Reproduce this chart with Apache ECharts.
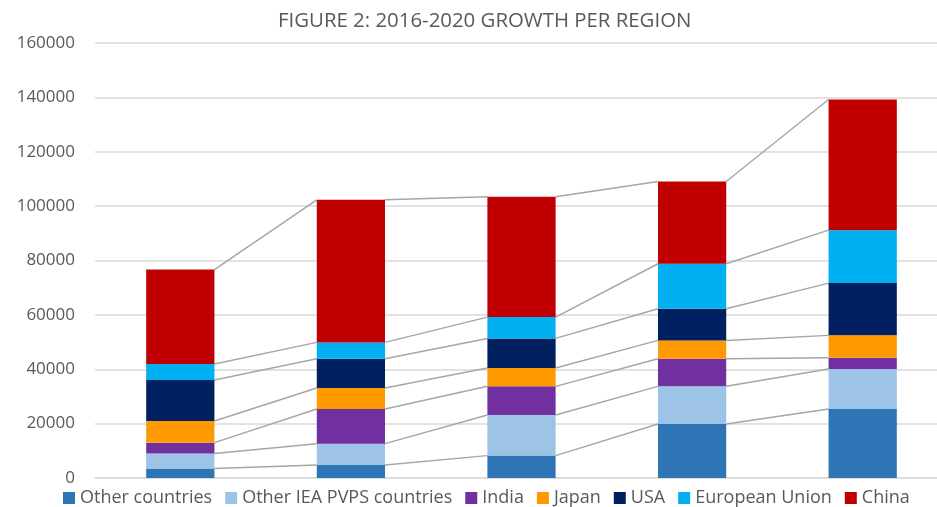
<!DOCTYPE html>
<html lang="en">
<head>
    <meta charset="UTF-8">
    <title>Growth per region</title>
    <script src="https://cdn.jsdelivr.net/npm/echarts@6/dist/echarts.min.js"></script>
    <style>
        * { margin: 0; padding: 0; }
        #main { width: 937px; height: 507px; background: #fff; }
    </style>
</head>
<body>
    <div id="main"></div>
    <script>
        var years = ['2016', '2017', '2018', '2019', '2020'];
        var regions = ['Other countries', 'Other IEA PVPS countries', 'India', 'Japan', 'USA', 'European Union', 'China'];
        var colors = ['#2E75B6', '#9DC3E6', '#7030A0', '#FF9900', '#002060', '#00B0F0', '#C00000'];

        var otherCountries = [3450, 4780, 8230, 19850, 25360];
        var otherIea = [5550, 7860, 14930, 13860, 14710];
        var india = [4000, 12720, 10550, 10180, 4190];
        var japan = [7950, 7720, 6730, 6730, 8200];
        var usa = [15100, 10810, 10910, 11650, 19220];
        var eu = [5900, 5990, 7830, 16540, 19480];
        var china = [34700, 52460, 44260, 30260, 48050];

        var values = [otherCountries, otherIea, india, japan, usa, eu, china];

        // cumulative tops for the connecting series lines
        var links = [];
        var cum = years.map(function () { return 0; });
        values.forEach(function (arr) {
            cum = cum.map(function (c, i) { return c + arr[i]; });
            for (var i = 0; i < years.length - 1; i++) {
                links.push([i, cum[i], cum[i + 1]]);
            }
        });

        var series = values.map(function (arr, k) {
            return {
                name: regions[k],
                type: 'bar',
                stack: 'total',
                barWidth: '40%',
                itemStyle: { color: colors[k] },
                data: arr
            };
        });
        series.push({
            type: 'custom',
            silent: true,
            z: 1,
            renderItem: function (params, api) {
                var i = api.value(0);
                var half = api.size([1, 0])[0] * 0.2;
                var p1 = api.coord([i, api.value(1)]);
                var p2 = api.coord([i + 1, api.value(2)]);
                return {
                    type: 'line',
                    shape: { x1: p1[0] + half, y1: p1[1], x2: p2[0] - half, y2: p2[1] },
                    style: { stroke: '#a6a6a6', lineWidth: 1.5 }
                };
            },
            data: links
        });

        var chart = echarts.init(document.getElementById('main'));
        chart.setOption({
            animation: false,
            title: {
                text: 'FIGURE 2: 2016-2020 GROWTH PER REGION',
                left: 273,
                top: 6,
                textStyle: { color: '#595959', fontSize: 20.4, fontWeight: 'normal', fontFamily: 'Open Sans' }
            },
            legend: {
                data: regions,
                top: 484,
                left: 58,
                itemWidth: 12,
                itemHeight: 12,
                itemGap: 13,
                icon: 'rect',
                textStyle: { color: '#595959', fontSize: 18, fontFamily: 'Open Sans' }
            },
            grid: { left: 95, right: -11, top: 43, bottom: 29, outerBoundsMode: 'none' },
            xAxis: {
                type: 'category',
                data: years,
                axisLine: { lineStyle: { color: '#d9d9d9', width: 1.5 } },
                axisTick: { show: false },
                axisLabel: { show: false }
            },
            yAxis: {
                type: 'value',
                min: 0,
                max: 160000,
                interval: 20000,
                axisLine: { show: false },
                axisTick: { show: false },
                axisLabel: {
                    color: '#595959', fontSize: 17, fontFamily: 'Open Sans', margin: 20,
                    formatter: function (v) { return String(v); }
                },
                splitLine: { lineStyle: { color: '#d9d9d9', width: 1.5 } }
            },
            series: series
        });
    </script>
</body>
</html>
